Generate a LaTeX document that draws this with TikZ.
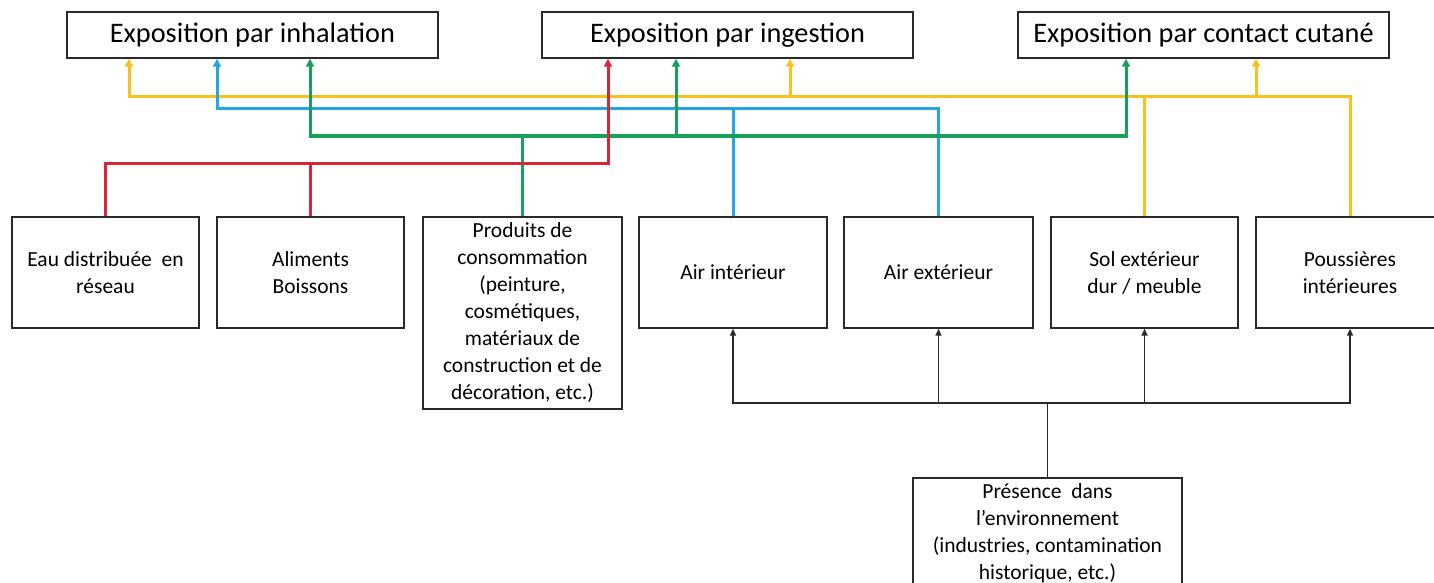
\documentclass[tikz,border=0pt]{standalone}
\usepackage{fontspec}
\setmainfont{Carlito}
\usetikzlibrary{arrows.meta}
\definecolor{cyel}{HTML}{F7C21E}
\definecolor{cblu}{HTML}{22A8DF}
\definecolor{cgrn}{HTML}{17A05A}
\definecolor{cred}{HTML}{D8253A}
\definecolor{cbox}{HTML}{2A2A2A}
\begin{document}
\begin{tikzpicture}[x=1pt,y=-1pt,
  topbox/.style={draw=cbox, line width=1.4pt, minimum width=371pt, minimum height=46pt, inner sep=0pt, font=\fontsize{28.3}{30}\selectfont},
  srcbox/.style={draw=cbox, line width=1.4pt, inner sep=0pt, minimum height=111pt, align=center, font=\fontsize{21.5}{27}\selectfont},
  bus/.style={line width=3pt},
  tip/.style={-{Triangle[length=8pt,width=8pt]}},
  tiptwo/.style={{Triangle[length=8pt,width=8pt]}-{Triangle[length=8pt,width=8pt]}},
  blk/.style={draw=cbox, line width=1.6pt},
  btip/.style={-{Triangle[length=7pt,width=6pt]}},
  btiptwo/.style={{Triangle[length=7pt,width=6pt]}-{Triangle[length=7pt,width=6pt]}}
]
\useasboundingbox (0,0) rectangle (1434,583);
\clip (0,0) rectangle (1434,583);

% top boxes
\node[topbox] (inh) at (252.5,35) {Exposition par inhalation};
\node[topbox] (ing) at (727.5,35) {Exposition par ingestion};
\node[topbox] (cut) at (1203.5,35) {Exposition par contact cutané};

% source boxes
\node[srcbox, minimum width=187pt] (eau) at (105.5,272.5) {Eau distribuée\ \ en\\réseau};
\node[srcbox, minimum width=187pt] (ali) at (310.5,272.5) {Aliments\\Boissons};
\node[srcbox, minimum width=199pt, minimum height=192pt] (pro) at (522.5,313) {Produits de\\consommation\\(peinture,\\cosmétiques,\\matériaux de\\construction et de\\décoration, etc.)};
\node[srcbox, minimum width=188pt] (ai) at (733,272.5) {Air intérieur};
\node[srcbox, minimum width=189pt] (ae) at (938.5,272.5) {Air extérieur};
\node[srcbox, minimum width=187pt] (sol) at (1144.5,272.5) {Sol extérieur\\dur / meuble};
\node[srcbox, minimum width=188pt] (pou) at (1350,272.5) {Poussières\\intérieures};
\node[srcbox, minimum width=269pt, minimum height=110pt] (pre) at (1047.5,533) {Présence\ \ dans\\l’environnement\\(industries, contamination\\historique, etc.)};

% bus levels
\coordinate (yb) at (0,97);
\coordinate (bb) at (0,109);
\coordinate (gb) at (0,136);
\coordinate (rb) at (0,163);
\coordinate (kb) at (0,403);

% arrow targets on top boxes
\coordinate (iY) at ([xshift=-123.5pt]inh.south);
\coordinate (iB) at ([xshift=-35.5pt]inh.south);
\coordinate (iG) at ([xshift=57.5pt]inh.south);
\coordinate (gR) at ([xshift=-119.5pt]ing.south);
\coordinate (gG) at ([xshift=-51.5pt]ing.south);
\coordinate (gY) at ([xshift=62.5pt]ing.south);
\coordinate (cG) at ([xshift=-77.5pt]cut.south);
\coordinate (cY) at ([xshift=52.5pt]cut.south);

% yellow
\draw[bus,cyel,tip] (pou.north) |- (iY |- yb) -- (iY);
\draw[bus,cyel] (sol.north) -- (sol.north |- yb);
\draw[bus,cyel,tip] (gY |- yb) -- (gY);
\draw[bus,cyel,tip] (cY |- yb) -- (cY);

% blue
\draw[bus,cblu,tip] (ae.north) |- (iB |- bb) -- (iB);
\draw[bus,cblu] (ai.north) -- (ai.north |- bb);

% green
\draw[bus,cgrn,tiptwo] (iG) |- (cG |- gb) -- (cG);
\draw[bus,cgrn,tip] (gG |- gb) -- (gG);
\draw[bus,cgrn] (pro.north) -- (pro.north |- gb);

% red
\draw[bus,cred,tip] (eau.north) |- (gR |- rb) -- (gR);
\draw[bus,cred] (ali.north) -- (ali.north |- rb);

% black
\draw[blk] (pre.north) -- (pre.north |- kb);
\draw[blk,btiptwo] (ai.south) |- (pou.south |- kb) -- (pou.south);
\draw[blk,btip] (ae.south |- kb) -- (ae.south);
\draw[blk,btip] (sol.south |- kb) -- (sol.south);
\end{tikzpicture}
\end{document}
